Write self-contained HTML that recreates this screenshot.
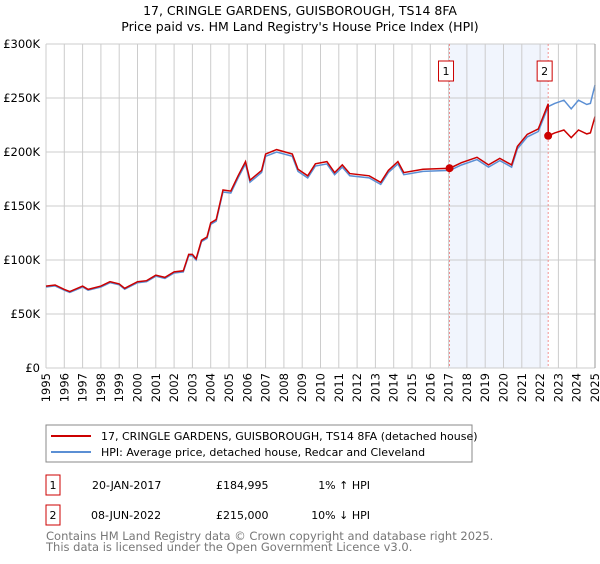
<!DOCTYPE html>
<html><head><meta charset="utf-8">
<style>
body{margin:0;background:#fff;font-family:"DejaVu Sans","Liberation Sans",sans-serif;}
svg text{font-family:"DejaVu Sans","Liberation Sans",sans-serif;}
</style></head>
<body>
<svg id="chart" width="600" height="560" xmlns="http://www.w3.org/2000/svg">
<text x="300" y="15" text-anchor="middle" font-size="12.5">17, CRINGLE GARDENS, GUISBOROUGH, TS14 8FA</text>
<text x="300" y="31" text-anchor="middle" font-size="12.5">Price paid vs. HM Land Registry's House Price Index (HPI)</text>
<g id="plot"></g>
<g>
<rect x="46" y="425" width="426" height="37" fill="#fff" stroke="#888"/>
<line x1="51" y1="436" x2="91" y2="436" stroke="#cc0000" stroke-width="2"/>
<text x="101" y="440" font-size="11">17, CRINGLE GARDENS, GUISBOROUGH, TS14 8FA (detached house)</text>
<line x1="51" y1="452" x2="91" y2="452" stroke="#5b8fd4" stroke-width="2"/>
<text x="101" y="456" font-size="11">HPI: Average price, detached house, Redcar and Cleveland</text>
</g>
<g font-size="11">
<rect x="46" y="475" width="14" height="20" fill="#fff" stroke="#cc0000"/>
<text x="53" y="489" text-anchor="middle">1</text>
<text x="92" y="489">20-JAN-2017</text>
<text x="216" y="489">£184,995</text>
<text x="370" y="489" text-anchor="end">1% ↑ HPI</text>
<rect x="46" y="505" width="14" height="20" fill="#fff" stroke="#cc0000"/>
<text x="53" y="519" text-anchor="middle">2</text>
<text x="91" y="519">08-JUN-2022</text>
<text x="216" y="519">£215,000</text>
<text x="370" y="519" text-anchor="end">10% ↓ HPI</text>
</g>
<text x="46" y="540" font-size="11.5" fill="#777">Contains HM Land Registry data © Crown copyright and database right 2025.</text>
<text x="46" y="551" font-size="11.5" fill="#777">This data is licensed under the Open Government Licence v3.0.</text>
</svg>
<script>
const hpiYears=[1995.0,1995.5,1996.0,1996.3,1997.0,1997.3,1998.0,1998.5,1999.0,1999.3,2000.0,2000.5,2001.0,2001.5,2002.0,2002.5,2002.8,2003.0,2003.2,2003.5,2003.8,2004.0,2004.3,2004.67,2005.1,2005.5,2005.9,2006.15,2006.78,2007.0,2007.6,2008.46,2008.77,2009.3,2009.72,2010.35,2010.77,2011.19,2011.6,2012.66,2013.29,2013.71,2014.23,2014.55,2015.6,2017.07,2017.7,2018.55,2019.18,2019.8,2020.44,2020.76,2021.3,2021.9,2022.44,2022.8,2023.3,2023.7,2024.1,2024.55,2024.75,2025.0];
const hpiValues=[75,76,72,70,75,72,75,79,77,73,79,80,85,83,88,89,104,104,100,117,120,133,136,163,162,176,189,172,181,196,200,196,182,176,187,189,179,186,178,176,170,181,189,179,182,183,188,193,186,192,186,203,214,219,242,245,248,240,248,244,245,262];
const saleYears=[2017.05,2022.44];
const salePrices=[184995,215000];
const yTicks=[0,50,100,150,200,250,300];
const yTickLabels=["£0","£50K","£100K","£150K","£200K","£250K","£300K"];
const xTicks=[1995,1996,1997,1998,1999,2000,2001,2002,2003,2004,2005,2006,2007,2008,2009,2010,2011,2012,2013,2014,2015,2016,2017,2018,2019,2020,2021,2022,2023,2024,2025];

const L=46,R=595,T=44,B=368;
const x=y=>L+(y-1995)/30*(R-L);
const yS=v=>B-v/300*(B-T);
const NS="http://www.w3.org/2000/svg";
const g=document.getElementById('plot');
function mk(t,a){const e=document.createElementNS(NS,t);for(const k in a)e.setAttribute(k,a[k]);g.appendChild(e);return e;}
function hpiAt(t){for(let i=0;i<hpiYears.length-1;i++){if(t<=hpiYears[i+1]){const f=(t-hpiYears[i])/(hpiYears[i+1]-hpiYears[i]);return hpiValues[i]+f*(hpiValues[i+1]-hpiValues[i]);}}return hpiValues[hpiValues.length-1];}

let sh=mk('rect',{x:x(saleYears[0]),y:T,width:x(saleYears[1])-x(saleYears[0]),height:B-T,fill:'#eef3fc',opacity:0.8});


xTicks.forEach(t=>{
 let l=mk('line',{x1:x(t),x2:x(t),y1:T,y2:B,stroke:'#cccccc'});
 
 
 let tx=mk('text',{x:0,y:0,'font-size':'11.5','text-anchor':'end',transform:`translate(${x(t)+4},${B+5}) rotate(-90)`});
 tx.textContent=t;
 
 
});
yTicks.forEach((t,i)=>{
 let l=mk('line',{x1:L,x2:R,y1:yS(t),y2:yS(t),stroke:'#cccccc'});
 
 
 let tx=mk('text',{x:L-6,y:yS(t)+4,'font-size':'11.5','text-anchor':'end'});
 tx.textContent=yTickLabels[i];
 
 
});
saleYears.forEach((s,i)=>{
 let l=mk('line',{x1:x(s),x2:x(s),y1:T,y2:B,stroke:'#ee7777','stroke-width':0.8,'stroke-dasharray':'2,2'});
 
 
 let r=mk('rect',{x:x(s)-11,y:61,width:15,height:20,fill:'#fff',stroke:'#cc0000'});
 
 
 let tx=mk('text',{x:x(s)-3.5,y:75,'font-size':'11','text-anchor':'middle'});
 tx.textContent=String(i+1);
 
 
});
let hp=hpiYears.map((t,i)=>x(t).toFixed(1)+','+yS(hpiValues[i]).toFixed(1)).join(' ');
let hl=mk('polyline',{points:hp,fill:'none',stroke:'#5b8fd4','stroke-width':1.5});


const f1=salePrices[0]/1000/hpiAt(saleYears[0]);
const f2=salePrices[1]/1000/hpiAt(saleYears[1]);
let pts=[];
hpiYears.forEach((t,i)=>{if(t<saleYears[1])pts.push([t,hpiValues[i]*f1]);});
pts.push([saleYears[1],hpiAt(saleYears[1])*f1]);
pts.push([saleYears[1],salePrices[1]/1000]);
hpiYears.forEach((t,i)=>{if(t>saleYears[1])pts.push([t,hpiValues[i]*f2]);});
let pl=mk('polyline',{points:pts.map(p=>x(p[0]).toFixed(1)+','+yS(p[1]).toFixed(1)).join(' '),fill:'none',stroke:'#cc0000','stroke-width':1.5});


saleYears.forEach((s,i)=>{
 let c=mk('circle',{cx:x(s),cy:yS(salePrices[i]/1000),r:4,fill:'#cc0000'});
 
 
});
let ax=mk('line',{x1:R,x2:R,y1:T,y2:B,stroke:'#999'});


</script>
</body></html>
